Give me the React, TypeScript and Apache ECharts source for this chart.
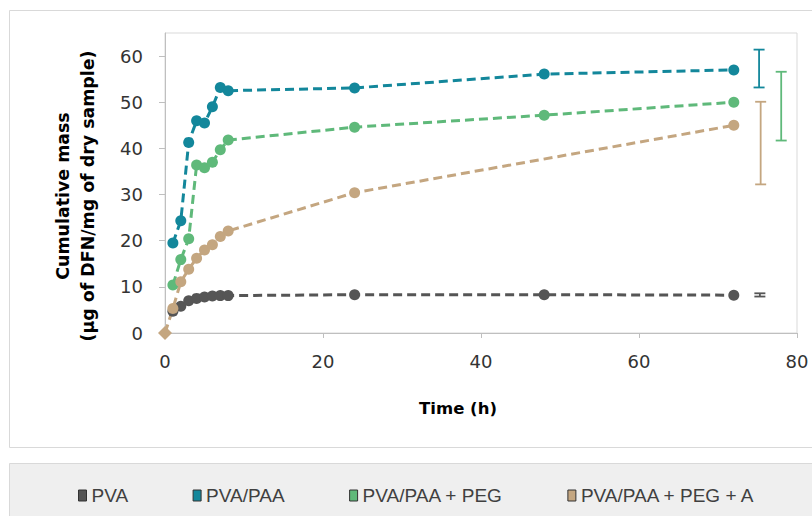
import React, { useEffect, useRef } from "react";
import * as echarts from "echarts";

const seriesNames = ["PVA", "PVA/PAA", "PVA/PAA + PEG", "PVA/PAA + PEG + A"];
const colors = ["#555555", "#13879b", "#5fb97a", "#c4a680"];

const hours = [1, 2, 3, 4, 5, 6, 7, 8, 24, 48, 72];
const pva = [4.7, 5.8, 7.0, 7.5, 7.8, 8.0, 8.1, 8.1, 8.3, 8.3, 8.2];
const pvaPaa = [19.5, 24.3, 41.3, 46.0, 45.5, 49.0, 53.2, 52.5, 53.1, 56.1, 57.0];
const pvaPaaPeg = [10.4, 15.9, 20.4, 36.4, 35.8, 37.0, 39.7, 41.8, 44.6, 47.2, 50.0];
const hoursA = [0, 1, 2, 3, 4, 5, 6, 7, 8, 24, 72];
const pvaPaaPegA = [0, 5.3, 11.1, 13.8, 16.2, 18.0, 19.1, 20.9, 22.1, 30.4, 45.0];

// error bars: [x position, low, high]
const errPva = [75.3, 7.9, 8.6];
const errPvaPaa = [75.2, 53.2, 61.4];
const errPeg = [78.0, 41.7, 56.6];
const errPegA = [75.4, 32.2, 50.1];

const yTicks = [0, 10, 20, 30, 40, 50, 60];

const FONT = "DejaVu Sans";
const LEGEND_FONT = "Liberation Sans";

function lineSeries(name: string, xs: number[], ys: number[], color: string, firstDiamond = false) {
  return {
    type: "line",
    name,
    data: xs.map((x, i) => ({
      value: [x, ys[i]],
      symbol: firstDiamond && i === 0 ? "diamond" : "circle",
      symbolSize: firstDiamond && i === 0 ? 14 : 11,
    })),
    symbol: "circle",
    symbolSize: 11,
    itemStyle: { color },
    lineStyle: { color, width: 3, type: [9, 5] },
    emphasis: { disabled: true },
  };
}

function errSeries(err: number[], color: string) {
  return {
    type: "custom",
    name: "err",
    data: [err],
    encode: { x: 0, y: [1, 2] },
    renderItem: (params: any, api: any) => {
      const x = api.value(0);
      const lo = api.coord([x, api.value(1)]);
      const hi = api.coord([x, api.value(2)]);
      const w = 5.5;
      const style = { stroke: color, lineWidth: 1.8 };
      return {
        type: "group",
        children: [
          { type: "line", shape: { x1: lo[0], y1: lo[1], x2: hi[0], y2: hi[1] }, style },
          { type: "line", shape: { x1: lo[0] - w, y1: lo[1], x2: lo[0] + w, y2: lo[1] }, style },
          { type: "line", shape: { x1: hi[0] - w, y1: hi[1], x2: hi[0] + w, y2: hi[1] }, style },
        ],
      };
    },
  };
}

export default function App() {
  const ref = useRef<HTMLDivElement>(null);
  useEffect(() => {
    if (!ref.current) return;
    const chart = echarts.init(ref.current, undefined, { renderer: "svg" });
    chart.setOption({
      animation: false,
      backgroundColor: "#ffffff",
      graphic: [
        {
          type: "rect",
          z: -10,
          shape: { x: 9.5, y: 10.5, width: 830, height: 437 },
          style: { fill: "#ffffff", stroke: "#d9d9d9", lineWidth: 1 },
        },
        {
          type: "rect",
          z: -10,
          shape: { x: 9.5, y: 463.5, width: 830, height: 80 },
          style: { fill: "#efefef", stroke: "#d9d9d9", lineWidth: 1 },
        },
      ],
      grid: {
        left: 165,
        top: 33,
        right: 15,
        bottom: 183,
        show: true,
        borderColor: "#d9d9d9",
        borderWidth: 1,
        containLabel: false,
      },
      legend: {
        data: seriesNames,
        left: 73,
        top: 481,
        icon: "rect",
        itemWidth: 8,
        itemHeight: 11,
        itemGap: 64.5,
        itemStyle: { borderColor: "#333333", borderWidth: 1 },
        textStyle: { fontFamily: LEGEND_FONT, fontSize: 19, color: "#404040" },
        selectedMode: false,
      },
      xAxis: {
        type: "value",
        min: 0,
        max: 80,
        interval: 20,
        name: "Time (h)",
        nameLocation: "middle",
        nameGap: 67,
        nameTextStyle: {
          fontFamily: FONT,
          fontSize: 16.5,
          fontWeight: "bold",
          color: "#000000",
          padding: [0, 46, 0, 0],
        },
        axisLine: { show: true, lineStyle: { color: "#bfbfbf", width: 1 } },
        axisTick: { show: true, length: 5, lineStyle: { color: "#bfbfbf" } },
        axisLabel: { fontFamily: FONT, fontSize: 18, color: "#333333", margin: 19 },
        splitLine: { show: false },
      },
      yAxis: {
        type: "value",
        min: 0,
        max: 65,
        interval: 10,
        name: "Cumulative mass\n(µg of DFN/mg of dry sample)",
        nameLocation: "middle",
        nameRotate: 90,
        nameGap: 65,
        nameTextStyle: {
          fontFamily: FONT,
          fontSize: 17.4,
          fontWeight: "bold",
          color: "#000000",
          lineHeight: 25,
          align: "center",
          padding: [0, 26, 0, 0],
        },
        axisLine: { show: true, lineStyle: { color: "#bfbfbf", width: 1 } },
        axisTick: { show: true, length: 6, lineStyle: { color: "#bfbfbf" }, customValues: yTicks },
        axisLabel: { fontFamily: FONT, fontSize: 18, color: "#333333", margin: 22, customValues: yTicks },
        splitLine: { show: false },
      },
      series: [
        lineSeries(seriesNames[0], hours, pva, colors[0]),
        lineSeries(seriesNames[1], hours, pvaPaa, colors[1]),
        lineSeries(seriesNames[2], hours, pvaPaaPeg, colors[2]),
        lineSeries(seriesNames[3], hoursA, pvaPaaPegA, colors[3], true),
        errSeries(errPva, colors[0]),
        errSeries(errPvaPaa, colors[1]),
        errSeries(errPeg, colors[2]),
        errSeries(errPegA, colors[3]),
      ],
    });
    return () => chart.dispose();
  }, []);
  return (
    <div
      ref={ref}
      style={{ position: "fixed", left: 0, top: 0, width: 812, height: 516 }}
    />
  );
}
